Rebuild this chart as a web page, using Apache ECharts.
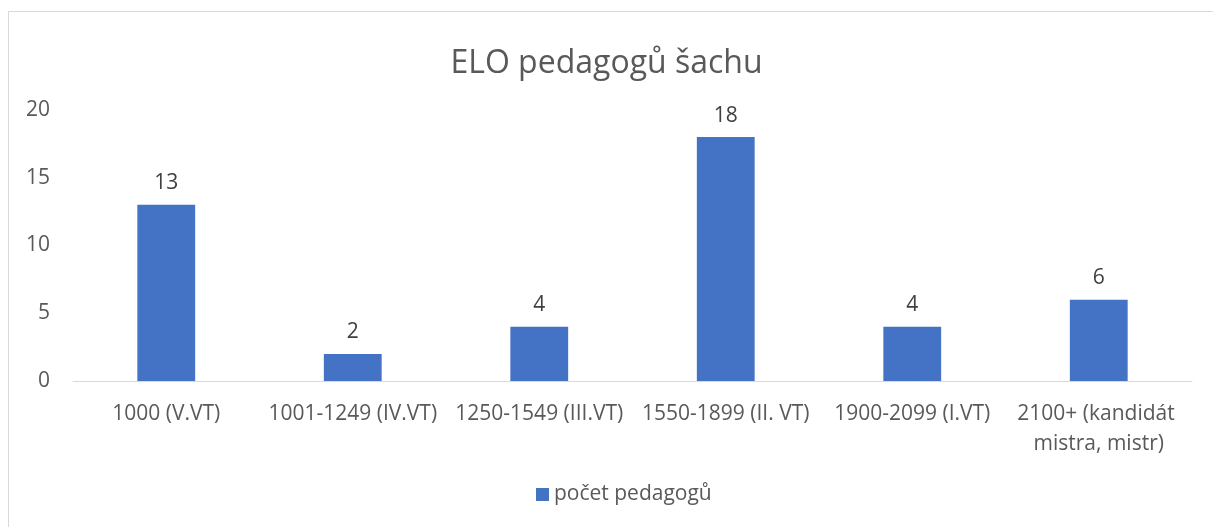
<!DOCTYPE html>
<html>
<head>
<meta charset="utf-8">
<script src="https://cdn.jsdelivr.net/npm/echarts@6/dist/echarts.min.js"></script>
<style>
html,body{margin:0;padding:0;background:#fff;}
#frame{position:absolute;left:8px;top:11px;width:1220px;height:530px;border:1px solid #d9d9d9;box-sizing:border-box;}
#chart{position:absolute;left:0;top:0;width:1213px;height:527px;}
</style>
</head>
<body>
<div id="frame"></div>
<div id="chart"></div>
<script>
const titleText = "ELO pedagogů šachu";
const seriesName = "počet pedagogů";
const categories = ["1000 (V.VT)", "1001-1249 (IV.VT)", "1250-1549 (III.VT)", "1550-1899 (II. VT)", "1900-2099 (I.VT)", "2100+ (kandidát mistra, mistr)"];
const values = [13, 2, 4, 18, 4, 6];
const yTicks = { min: 0, max: 20, interval: 5 };

const chart = echarts.init(document.getElementById('chart'), null, {renderer: 'canvas'});
const font = "'Open Sans', sans-serif";
chart.setOption({
  animation: false,
  title: {
    text: titleText, left: 'center', top: 43,
    textStyle: {fontFamily: font, fontSize: 32, fontWeight: 'normal', color: '#595959'}
  },
  legend: {
    data: [seriesName], bottom: 17, left: 531,
    itemWidth: 13, itemHeight: 13, itemGap: 7, icon: 'rect',
    textStyle: {fontFamily: font, fontSize: 21, color: '#595959'}
  },
  grid: {left: 73, right: 21, top: 110, bottom: 146, containLabel: false},
  xAxis: {
    type: 'category', data: categories,
    axisLine: {lineStyle: {color: '#d9d9d9', width: 1}},
    axisTick: {show: false},
    axisLabel: {interval: 0, margin: 18, fontFamily: font, fontSize: 21, color: '#595959',
      width: 186, overflow: 'break', lineHeight: 30}
  },
  yAxis: {
    type: 'value', min: yTicks.min, max: yTicks.max, interval: yTicks.interval,
    axisLine: {show: false}, axisTick: {show: false},
    splitLine: {show: false},
    axisLabel: {margin: 23, fontFamily: font, fontSize: 21, color: '#595959'}
  },
  series: [{
    name: seriesName, type: 'bar', data: values, barWidth: '31%',
    itemStyle: {color: '#4472C4'},
    label: {show: true, position: 'top', distance: 11, fontFamily: font, fontSize: 21, color: '#404040'}
  }]
});
</script>
</body>
</html>
